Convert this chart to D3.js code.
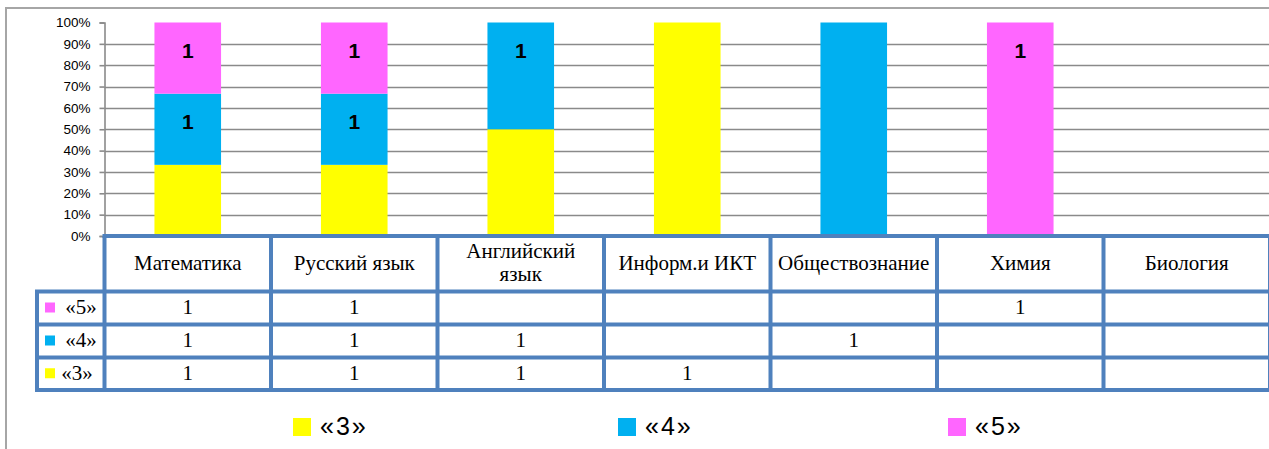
<!DOCTYPE html>
<html lang="ru">
<head>
<meta charset="UTF-8" />
<title>Итоги</title>
<script src="https://d3js.org/d3.v7.min.js"></script>
<style>
  body { margin: 0; background: #fff; font-family: "Liberation Sans", Arial, sans-serif; }
  svg { display: block; }
</style>
</head>
<body>
<svg id="chart" width="1269" height="449"></svg>
<script>
  // Subjects and marks count per subject
  const subjects = ["Математика", "Русский язык", "Английский язык", "Информ.и ИКТ", "Обществознание", "Химия", "Биология"];
  const marks3 = [1, 1, 1, 1, null, null, null];
  const marks4 = [1, 1, 1, null, 1, null, null];
  const marks5 = [1, 1, null, null, null, 1, null];
  // data labels that are shown on the bars
  const labels4 = [1, 1, 1, null, null, null, null];
  const labels5 = [1, 1, null, null, null, 1, null];
  const yTicks = [0, 0.1, 0.2, 0.3, 0.4, 0.5, 0.6, 0.7, 0.8, 0.9, 1];

  const seriesInfo = [
    { key: "«3»", values: marks3, labels: null, color: "#FFFF00" },
    { key: "«4»", values: marks4, labels: labels4, color: "#00B0F0" },
    { key: "«5»", values: marks5, labels: labels5, color: "#FF66FF" }
  ];

  const svg = d3.select("#chart");

  // outer chart frame (cut off at right and bottom)
  svg.append("rect")
    .attr("x", 6).attr("y", 8)
    .attr("width", 1300).attr("height", 500)
    .attr("fill", "#fff")
    .attr("stroke", "#a6a6a6")
    .attr("stroke-width", 2);

  const plotLeft = 104.5, plotRight = 1270, plotTop = 22.5, plotBottom = 236;

  const x = d3.scaleBand()
    .domain(subjects)
    .range([plotLeft, plotRight])
    .paddingInner(0.6)
    .paddingOuter(0.3);

  const y = d3.scaleLinear().domain([0, 1]).range([plotBottom, plotTop]);

  const rows = subjects.map((s, i) => {
    const r = { subject: s };
    seriesInfo.forEach(si => { r[si.key] = si.values[i] || 0; });
    return r;
  });

  const stacked = d3.stack()
    .keys(seriesInfo.map(s => s.key))
    .offset(d3.stackOffsetExpand)(rows);

  // gridlines 10%..90%
  svg.append("g")
    .selectAll("line")
    .data(yTicks.filter(t => t > 0 && t < 1))
    .join("line")
    .attr("x1", plotLeft).attr("x2", 1269)
    .attr("y1", d => Math.round(y(d)) + 0.5)
    .attr("y2", d => Math.round(y(d)) + 0.5)
    .attr("stroke", "#8a8a8a")
    .attr("stroke-width", 1.6);

  // y axis
  const yAxis = svg.append("g")
    .attr("transform", `translate(${plotLeft},0)`)
    .call(d3.axisLeft(y).tickValues(yTicks).tickFormat(d3.format(".0%")).tickSize(5).tickPadding(9));
  yAxis.select(".domain").attr("stroke", "#8a8a8a").attr("stroke-width", 1.6);
  yAxis.selectAll(".tick line").attr("stroke", "#8a8a8a").attr("stroke-width", 1.6);
  yAxis.selectAll(".tick text")
    .attr("fill", "#000")
    .attr("font-family", "Liberation Sans, Arial, sans-serif")
    .attr("font-size", 13.5);

  // bars
  stacked.forEach((layer, li) => {
    const info = seriesInfo[li];
    svg.append("g")
      .selectAll("rect")
      .data(layer.filter(d => d[1] - d[0] > 0))
      .join("rect")
      .attr("x", d => x(d.data.subject))
      .attr("width", x.bandwidth())
      .attr("y", d => y(d[1]))
      .attr("height", d => y(d[0]) - y(d[1]))
      .attr("fill", info.color);

    if (info.labels) {
      svg.append("g")
        .selectAll("text")
        .data(layer.filter((d, i) => info.labels[i] != null))
        .join("text")
        .attr("x", d => x(d.data.subject) + x.bandwidth() / 2)
        .attr("y", d => y(d[1]) + 30)
        .attr("text-anchor", "middle")
        .attr("dominant-baseline", "middle")
        .attr("font-family", "Liberation Sans, Arial, sans-serif")
        .attr("font-weight", "bold")
        .attr("font-size", 21)
        .text((d) => info.labels[layer.indexOf(d)]);
    }
  });

  // data table
  const tableColor = "#4F81BD";
  const rowEdges = [236, 291.5, 324.5, 357.5, 390];
  const legendLeft = 37;
  const colLeft = s => x(s) - (x.step() - x.bandwidth()) / 2;
  const tbl = svg.append("g")
    .attr("font-family", "Liberation Serif, Times New Roman, serif")
    .attr("font-size", 21);

  // header labels
  tbl.selectAll("text.hdr")
    .data(subjects)
    .join("text")
    .attr("class", "hdr")
    .attr("x", s => colLeft(s) + x.step() / 2)
    .attr("y", (rowEdges[0] + rowEdges[1]) / 2 + 1)
    .attr("text-anchor", "middle")
    .attr("dominant-baseline", "middle")
    .each(function (s) {
      const el = d3.select(this);
      if (s === "Английский язык") {
        el.append("tspan").attr("x", colLeft(s) + x.step() / 2).attr("dy", "-0.55em").text("Английский");
        el.append("tspan").attr("x", colLeft(s) + x.step() / 2).attr("dy", "1.1em").text("язык");
      } else {
        el.text(s);
      }
    });

  // rows: «5», «4», «3»
  const tableSeries = seriesInfo.slice().reverse();
  tableSeries.forEach((si, ri) => {
    const cy = (rowEdges[ri + 1] + rowEdges[ri + 2]) / 2;
    tbl.append("rect")
      .attr("x", 45).attr("y", cy - 5.5)
      .attr("width", 10).attr("height", 10)
      .attr("fill", si.color);
    tbl.append("text")
      .attr("x", ri === 2 ? 77 : 81).attr("y", cy + 1)
      .attr("text-anchor", "middle")
      .attr("dominant-baseline", "middle")
      .text(si.key);
    tbl.append("g")
      .selectAll("text")
      .data(subjects.map((s, i) => ({ s, v: si.values[i] })).filter(d => d.v != null))
      .join("text")
      .attr("x", d => colLeft(d.s) + x.step() / 2)
      .attr("y", cy + 1)
      .attr("text-anchor", "middle")
      .attr("dominant-baseline", "middle")
      .text(d => d.v);
  });

  // table grid lines
  const colEdges = subjects.map(colLeft).concat([plotRight]);
  tbl.selectAll("line.h")
    .data(rowEdges)
    .join("line")
    .attr("x1", (d, i) => i === 0 ? plotLeft - 2 : legendLeft - 2)
    .attr("x2", plotRight + 2)
    .attr("y1", d => d).attr("y2", d => d)
    .attr("stroke", tableColor)
    .attr("stroke-width", 4);
  tbl.selectAll("line.v")
    .data(colEdges)
    .join("line")
    .attr("x1", d => d).attr("x2", d => d)
    .attr("y1", rowEdges[0]).attr("y2", rowEdges[4])
    .attr("stroke", tableColor)
    .attr("stroke-width", 4);
  tbl.append("line")
    .attr("x1", legendLeft).attr("x2", legendLeft)
    .attr("y1", rowEdges[1]).attr("y2", rowEdges[4])
    .attr("stroke", tableColor)
    .attr("stroke-width", 4);

  // legend
  const legendX = [293, 618, 948];
  const legend = svg.append("g")
    .selectAll("g")
    .data(seriesInfo)
    .join("g")
    .attr("transform", (d, i) => `translate(${legendX[i]},418)`);
  legend.append("rect")
    .attr("width", 18).attr("height", 18)
    .attr("fill", d => d.color);
  legend.append("text")
    .attr("x", 27).attr("y", 10)
    .attr("dominant-baseline", "middle")
    .attr("font-family", "Liberation Sans, Arial, sans-serif")
    .attr("font-size", 25)
    .attr("letter-spacing", 2)
    .text(d => d.key);
</script>
</body>
</html>
